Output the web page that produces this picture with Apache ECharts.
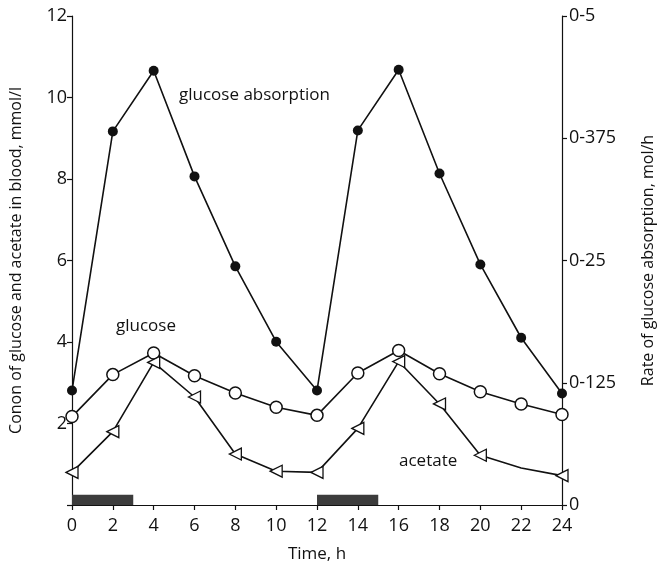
<!DOCTYPE html>
<html>
<head>
<meta charset="utf-8">
<script src="https://cdn.jsdelivr.net/npm/echarts@6/dist/echarts.min.js"></script>
<style>
html,body{margin:0;padding:0;background:#fff;}
#chart{width:664px;height:573px;}
</style>
</head>
<body>
<div id="chart"></div>
<script>
// Time points (h)
const hours = [0, 2, 4, 6, 8, 10, 12, 14, 16, 18, 20, 22, 24];
// Rate of glucose absorption, mol/h (right axis)
const absorption = [0.117, 0.382, 0.444, 0.336, 0.244, 0.167, 0.117, 0.383, 0.445, 0.339, 0.246, 0.171, 0.114];
// Blood glucose, mmol/l (left axis)
const glucose = [2.17, 3.2, 3.73, 3.17, 2.75, 2.4, 2.2, 3.24, 3.79, 3.22, 2.78, 2.48, 2.22];
// Blood acetate, mmol/l (left axis)
const acetate = [0.8, 1.8, 3.5, 2.65, 1.25, 0.83, 0.8, 1.88, 3.52, 2.48, 1.22, 0.91, 0.72];
// Feeding periods (h)
const feeding = [[0, 3], [12, 15]];
// Tick labels
const leftTicks = [0, 2, 4, 6, 8, 10, 12];
const rightTicks = [0, 0.125, 0.25, 0.375, 0.5];

const FONT = 'Open Sans';
const txt = '#111';

const pairs = arr => hours.map((h, i) => [h, arr[i]]);

const chart = echarts.init(document.getElementById('chart'), null, {renderer: 'canvas'});

const axisCommon = {
  axisLine: {show: true, lineStyle: {color: '#111', width: 1.2}},
  axisTick: {show: true, inside: false, length: 5, lineStyle: {color: '#111', width: 1.2}},
  splitLine: {show: false},
  axisLabel: {color: txt, fontFamily: FONT, fontSize: 18}
};

const option = {
  animation: false,
  backgroundColor: '#fff',
  grid: {left: 67, right: 99, top: 16, bottom: 68, containLabel: false},
  xAxis: {
    type: 'value', min: 0, max: 24, interval: 2,
    name: 'Time, h', nameLocation: 'middle', nameGap: 41,
    nameTextStyle: {color: txt, fontFamily: FONT, fontSize: 17},
    ...axisCommon,
    axisLabel: {...axisCommon.axisLabel, margin: 12}
  },
  yAxis: [
    {
      type: 'value', min: 0, max: 12, interval: 2, position: 'left',
      name: 'Conon of glucose and acetate in blood, mmol/l',
      nameLocation: 'middle', nameGap: 48, nameRotate: 90,
      nameTextStyle: {color: txt, fontFamily: FONT, fontSize: 16},
      ...axisCommon,
      axisLabel: {...axisCommon.axisLabel, margin: 5,
        formatter: v => (leftTicks.includes(v) && v !== 0) ? String(v) : ''}
    },
    {
      type: 'value', min: 0, max: 0.5, interval: 0.125, position: 'right',
      name: 'Rate of glucose absorption, mol/h',
      nameLocation: 'middle', nameGap: 78, nameRotate: 90,
      nameTextStyle: {color: txt, fontFamily: FONT, fontSize: 16},
      ...axisCommon,
      axisLabel: {...axisCommon.axisLabel, margin: 7,
        formatter: v => {
          if (!rightTicks.some(t => Math.abs(t - v) < 1e-9)) return '';
          return v === 0 ? '0' : String(v).replace('.', '-');
        }}
    }
  ],
  series: [
    {
      name: 'feeding', type: 'line', data: [], yAxisIndex: 0, silent: true,
      markArea: {
        silent: true,
        itemStyle: {color: '#3c3c3c', opacity: 1},
        data: feeding.map(([a, b]) => [{coord: [a, 0]}, {coord: [b, 0.25]}])
      }
    },
    {
      name: 'glucose absorption', type: 'line', yAxisIndex: 1,
      data: pairs(absorption),
      symbol: 'circle', symbolSize: 10,
      lineStyle: {color: '#111', width: 1.6},
      itemStyle: {color: '#111', borderColor: '#111', borderWidth: 0},
      z: 3
    },
    {
      name: 'glucose', type: 'line', yAxisIndex: 0,
      data: pairs(glucose),
      symbol: 'circle', symbolSize: 12,
      lineStyle: {color: '#111', width: 1.6},
      itemStyle: {color: '#fff', borderColor: '#111', borderWidth: 1.5},
      z: 4
    },
    {
      name: 'acetate', type: 'line', yAxisIndex: 0,
      data: hours.map((h, i) => ({value: [h, acetate[i]], symbol: h === 22 ? 'none' : 'triangle'})),
      symbol: 'triangle', symbolSize: 12, symbolRotate: 90,
      lineStyle: {color: '#111', width: 1.6},
      itemStyle: {color: '#fff', borderColor: '#111', borderWidth: 1.3},
      z: 4
    }
  ],
  graphic: [
    {type: 'text', left: 179, top: 87, style: {text: 'glucose absorption', fill: txt, font: '17px "Open Sans"'}},
    {type: 'text', left: 116, top: 318, style: {text: 'glucose', fill: txt, font: '17px "Open Sans"'}},
    {type: 'text', left: 399, top: 453, style: {text: 'acetate', fill: txt, font: '17px "Open Sans"'}}
  ]
};

chart.setOption(option);
</script>
</body>
</html>
